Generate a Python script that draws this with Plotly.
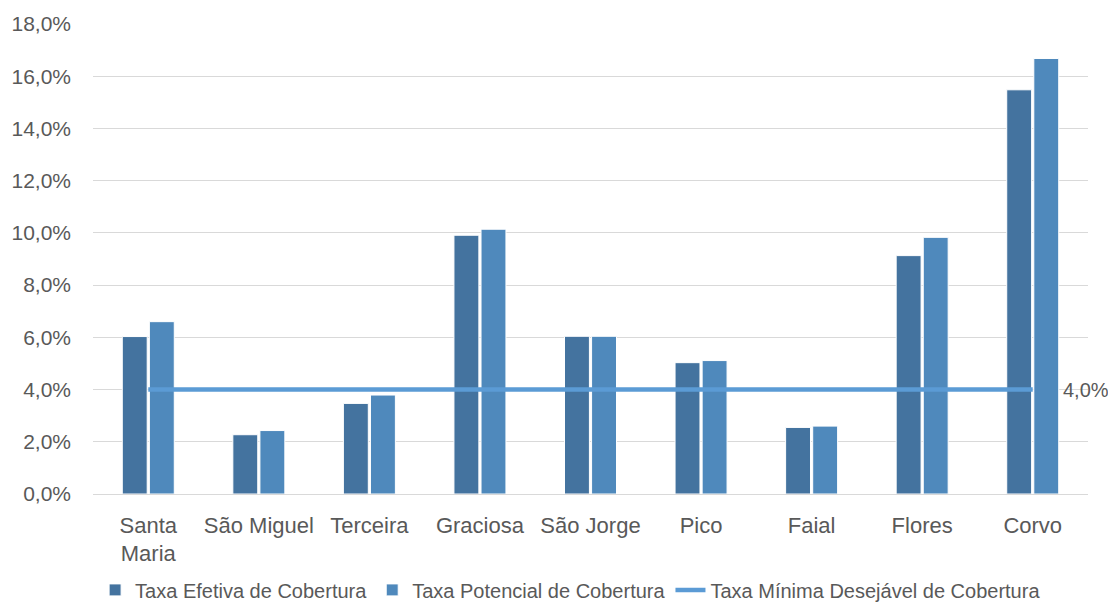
import plotly.graph_objects as go

categories = ["Santa<br>Maria", "São Miguel", "Terceira", "Graciosa", "São Jorge", "Pico", "Faial", "Flores", "Corvo"]
taxa_efetiva = [0.0603, 0.0227, 0.0347, 0.0991, 0.0604, 0.0503, 0.0255, 0.0913, 0.1548]
taxa_potencial = [0.0660, 0.0243, 0.0379, 0.1014, 0.0604, 0.0511, 0.0260, 0.0983, 0.1668]
taxa_minima = [0.04] * 9
minima_label = "4,0%"

names = ["Taxa Efetiva de Cobertura", "Taxa Potencial de Cobertura", "Taxa Mínima Desejável de Cobertura"]

FONT = "Liberation Sans, Arial, sans-serif"
TXT = "#595959"

fig = go.Figure()
fig.add_trace(go.Bar(x=categories, y=taxa_efetiva, name=names[0],
                     marker=dict(color="#44739F", line=dict(color="white", width=1))))
fig.add_trace(go.Bar(x=categories, y=taxa_potencial, name=names[1],
                     marker=dict(color="#4F89BC", line=dict(color="white", width=1))))
fig.add_trace(go.Scatter(x=categories, y=taxa_minima, name=names[2], mode="lines",
                         line=dict(color="#5B9BD5", width=4.5)))

fig.add_annotation(x=categories[-1], y=taxa_minima[-1], text=minima_label, showarrow=False,
                   xanchor="left", yanchor="middle", xshift=28,
                   font=dict(size=20, color=TXT, family=FONT))

fig.update_layout(
    width=1116, height=603,
    margin=dict(l=85, r=36, t=16, b=117, autoexpand=False),
    plot_bgcolor="white", paper_bgcolor="white",
    separators=",.",
    barmode="group", bargap=0.51, bargroupgap=0.08,
    font=dict(family=FONT, size=21, color=TXT),
    showlegend=True,
    legend=dict(orientation="h", x=0.48, xanchor="center",
                yref="container", y=0.035, yanchor="middle",
                font=dict(size=20, color=TXT, family=FONT),
                traceorder="normal", itemwidth=30, tracegroupgap=0),
)
fig.update_yaxes(range=[0, 0.18], dtick=0.02, tickformat=".1%", gridcolor="#D9D9D9",
                 gridwidth=1.3, zeroline=False, showline=False, ticks="",
                 ticklabelstandoff=21, automargin=False,
                 tickfont=dict(size=21, color=TXT, family=FONT))
fig.update_xaxes(range=[-0.5, 8.5], showline=True, linecolor="#D9D9D9", linewidth=1.3, ticks="",
                 ticklabelstandoff=11, automargin=False,
                 tickfont=dict(size=22, color=TXT, family=FONT))

fig.write_html("out.html")
